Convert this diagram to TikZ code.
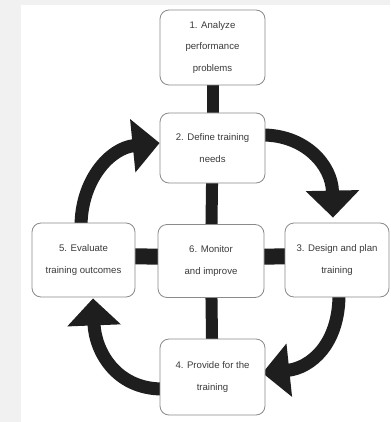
\documentclass[tikz,border=0pt]{standalone}
\usepackage{fontspec}
\setmainfont{Liberation Sans}
\usetikzlibrary{arrows.meta}
\pgfdeclarelayer{background}
\pgfsetlayers{background,main}
\definecolor{pagegray}{HTML}{F1F1F1}
\definecolor{boxline}{HTML}{8A8A8A}
\definecolor{ink}{HTML}{1E1E1E}
\definecolor{txt}{HTML}{3A3A3A}
\tikzset{
  stepbox/.style={draw=boxline, line width=0.8pt, fill=white, rounded corners=9pt,
    align=center, text=txt, inner sep=0pt,
    font=\fontsize{9.6}{21.5}\selectfont},
  linkbar/.style={draw=ink, line width=12pt},
  widebar/.style={draw=ink, line width=16pt},
  cyclearrow/.style={draw=ink, line width=13pt,
    -{Triangle[width=52pt,length=27pt]}},
}
\begin{document}
\begin{tikzpicture}[x=1pt,y=-1pt]
  % canvas
  \begin{pgfonlayer}{background}
    \fill[pagegray] (0,0) rectangle (390,422);
    \fill[white] (21,5) rectangle (390,422);
  \end{pgfonlayer}
  \useasboundingbox (0,0) rectangle (390,422);

  % process steps
  \node[stepbox, minimum width=105pt, minimum height=75pt] (b1) at (212.5,47.5)
    {1. Analyze\\performance\\problems};
  \node[stepbox, minimum width=105pt, minimum height=70pt] (b2) at (212.5,148)
    {2. Define training\\needs};
  \node[stepbox, minimum width=104pt, minimum height=74pt] (b3) at (337,260)
    {3. Design and plan\\training};
  \node[stepbox, minimum width=105pt, minimum height=76pt] (b4) at (212.5,377)
    {4. Provide for the\\training};
  \node[stepbox, minimum width=103pt, minimum height=74pt] (b5) at (83.5,260)
    {5. Evaluate\\training outcomes};
  \node[stepbox, minimum width=106pt, minimum height=73pt] (b6) at (211,261)
    {6. Monitor\\and improve};

  \begin{pgfonlayer}{background}
    % links to the central step
    \draw[linkbar] (b1.center) -- (b2.center);
    \draw[linkbar] (b2.center) -- (b6.center);
    \draw[linkbar] (b6.center) -- (b4.center);
    \draw[widebar] ([yshift=4pt]b5.center) -- ([yshift=4pt]b6.center);
    \draw[widebar] ([yshift=4pt]b6.center) -- ([yshift=4pt]b3.center);

    % the training cycle
    \draw[cyclearrow] ([xshift=-3pt,yshift=13pt]b2.east)
      .. controls (305,135) and (332,165) .. ([xshift=-4pt,yshift=5pt]b3.north);
    \draw[cyclearrow] ([xshift=2pt,yshift=3pt]b3.south)
      .. controls (339,345) and (310,368) .. ([xshift=-3pt,yshift=4pt]b4.east);
    \draw[cyclearrow] ([xshift=3pt,yshift=-12pt]b4.west)
      .. controls (115,389) and (95,350) .. ([xshift=9.5pt,yshift=-1pt]b5.south);
    \draw[cyclearrow] ([xshift=-2.5pt,yshift=-4pt]b5.north)
      .. controls (81,180) and (110,148) .. ([yshift=5pt]b2.west);
  \end{pgfonlayer}
\end{tikzpicture}
\end{document}
